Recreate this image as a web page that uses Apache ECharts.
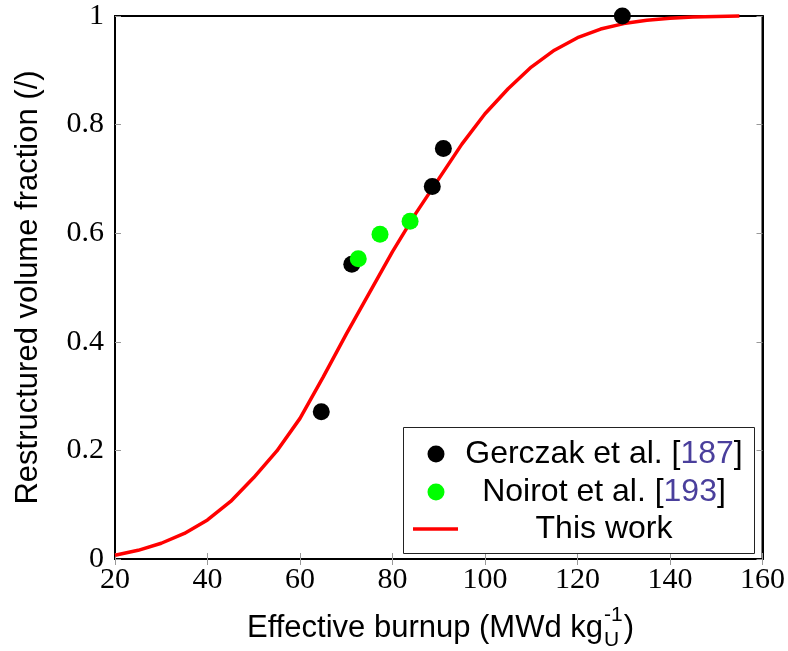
<!DOCTYPE html>
<html>
<head>
<meta charset="utf-8">
<script src="https://cdn.jsdelivr.net/npm/echarts@6/dist/echarts.min.js"></script>
<style>
html,body{margin:0;padding:0;background:#fff;}
#chart{width:788px;height:651px;}
</style>
</head>
<body>
<div id="chart"></div>
<script>
// ---- data ----
const xTicks = [20, 40, 60, 80, 100, 120, 140, 160];
const yTicks = [0, 0.2, 0.4, 0.6, 0.8, 1];

const gerczakX = [64.6, 71.2, 88.6, 91.0, 129.7];
const gerczakY = [0.271, 0.543, 0.686, 0.756, 1.0];

const noirotX = [72.6, 77.3, 83.8];
const noirotY = [0.553, 0.598, 0.622];

const curveX = [20, 25, 30, 35, 40, 45, 50, 55, 60, 65, 70, 75, 80, 85, 90, 95, 100, 105, 110, 115, 120, 125, 130, 135, 140, 145, 150, 155];
const curveY = [0.007, 0.016, 0.029, 0.047, 0.072, 0.106, 0.150, 0.199, 0.259, 0.335, 0.414, 0.490, 0.566, 0.636, 0.700, 0.764, 0.820, 0.866, 0.906, 0.937, 0.960, 0.976, 0.986, 0.992, 0.996, 0.998, 0.999, 1.000];

const seriesNames = ['Gerczak et al. [', 'Noirot et al. [', 'This work'];
const seriesRefs = ['187', '193', ''];

const xTitle = 'Effective burnup (MWd kg';
const xTitleSup = '-1';
const xTitleSub = 'U';
const yTitle = 'Restructured volume fraction (/)';

// ---- chart ----
const chart = echarts.init(document.getElementById('chart'), null, {renderer: 'canvas'});

const SANS = '"Liberation Sans", Arial, sans-serif';
const SERIF = '"Liberation Serif", "Times New Roman", serif';

function zip(a, b) { return a.map((v, i) => [v, b[i]]); }

const grid = {left: 115, right: 24, top: 16, bottom: 92, show: true, borderColor: '#000', borderWidth: 2, backgroundColor: 'transparent'};

const tickStyle = {show: true, inside: true, length: 6, lineStyle: {color: '#999', width: 1}};
const axisLine = {show: true, lineStyle: {color: '#000', width: 2}};

// measure text for x title layout
const cv = document.createElement('canvas').getContext('2d');
function tw(text, font) { cv.font = font; return cv.measureText(text).width; }
const mainFont = '31px ' + SANS;
const legendFont = '32px ' + SANS;
const smallFont = '21px ' + SANS;
const wMain = tw(xTitle, mainFont);
const wSup = tw(xTitleSup, smallFont);
const wSub = tw(xTitleSub, smallFont);
const wPar = tw(')', mainFont);
const plotCenter = grid.left + (788 - grid.left - grid.right) / 2;
const totalW = wMain + Math.max(wSup, wSub) + wPar;
const xStart = plotCenter - totalW / 2;
const titleY = 628;

// legend geometry
const lg = {x: 403, y: 427, w: 351, h: 126};
const rowY = [454, 492, 529];
const textCX = 604;
const markX = 436;

const option = {
  backgroundColor: '#fff',
  animation: false,
  grid: grid,
  xAxis: [
    {
      type: 'value', position: 'bottom', min: xTicks[0], max: xTicks[xTicks.length - 1], interval: 20,
      axisLine: axisLine, axisTick: tickStyle, splitLine: {show: false},
      axisLabel: {color: '#000', fontFamily: SERIF, fontSize: 30, margin: 6,
        formatter: v => String(v)}
    },
    {
      type: 'value', position: 'top', min: xTicks[0], max: xTicks[xTicks.length - 1], interval: 20,
      axisLine: axisLine, axisTick: tickStyle, splitLine: {show: false}, axisLabel: {show: false}
    }
  ],
  yAxis: [
    {
      type: 'value', position: 'left', min: yTicks[0], max: yTicks[yTicks.length - 1], interval: 0.2,
      axisLine: axisLine, axisTick: tickStyle, splitLine: {show: false},
      axisLabel: {color: '#000', fontFamily: SERIF, fontSize: 30, margin: 11,
        formatter: v => String(+v.toFixed(1))},
      name: yTitle, nameLocation: 'middle', nameGap: 71, nameRotate: 90,
      nameTextStyle: {color: '#000', fontFamily: SANS, fontSize: 31}
    },
    {
      type: 'value', position: 'right', min: yTicks[0], max: yTicks[yTicks.length - 1], interval: 0.2,
      axisLine: axisLine, axisTick: tickStyle, splitLine: {show: false}, axisLabel: {show: false}
    }
  ],
  series: [
    {
      name: 'This work', type: 'line', xAxisIndex: 0, yAxisIndex: 0,
      data: zip(curveX, curveY), showSymbol: false, symbol: 'none',
      lineStyle: {color: '#ff0000', width: 3.5}, clip: false, z: 2
    },
    {
      name: 'Gerczak', type: 'scatter', xAxisIndex: 0, yAxisIndex: 0,
      data: zip(gerczakX, gerczakY), symbol: 'circle', symbolSize: 17,
      itemStyle: {color: '#000', opacity: 1}, clip: false, z: 3
    },
    {
      name: 'Noirot', type: 'scatter', xAxisIndex: 0, yAxisIndex: 0,
      data: zip(noirotX, noirotY), symbol: 'circle', symbolSize: 17,
      itemStyle: {color: '#00ff00', opacity: 1}, clip: false, z: 4
    }
  ],
  graphic: [
    // x axis title
    {type: 'text', x: xStart, y: titleY, style: {text: xTitle, font: mainFont, fill: '#000', align: 'left', verticalAlign: 'middle'}},
    {type: 'text', x: xStart + wMain + 1, y: titleY - 13, style: {text: xTitleSup, font: smallFont, fill: '#000', align: 'left', verticalAlign: 'middle'}},
    {type: 'text', x: xStart + wMain + 1, y: titleY + 12, style: {text: xTitleSub, font: smallFont, fill: '#000', align: 'left', verticalAlign: 'middle'}},
    {type: 'text', x: xStart + wMain + Math.max(wSup, wSub) + 2, y: titleY, style: {text: ')', font: mainFont, fill: '#000', align: 'left', verticalAlign: 'middle'}},
    // legend
    {type: 'rect', shape: {x: lg.x + 0.5, y: lg.y + 0.5, width: lg.w, height: lg.h}, style: {fill: '#fff', stroke: '#222', lineWidth: 1}, z: 10},
    {type: 'circle', shape: {cx: markX, cy: rowY[0], r: 8.5}, style: {fill: '#000'}, z: 11},
    {type: 'circle', shape: {cx: markX, cy: rowY[1], r: 8.5}, style: {fill: '#00ff00'}, z: 11},
    {type: 'line', shape: {x1: 413, y1: rowY[2], x2: 458, y2: rowY[2]}, style: {stroke: '#ff0000', lineWidth: 3.5}, z: 11},
    {type: 'text', x: textCX, y: rowY[0], z: 11, style: {
      text: '{t|' + seriesNames[0] + '}{n|' + seriesRefs[0] + '}{t|]}', align: 'center', verticalAlign: 'middle',
      rich: {t: {font: legendFont, fill: '#000'}, n: {font: legendFont, fill: '#4a3f9c'}}}},
    {type: 'text', x: textCX, y: rowY[1], z: 11, style: {
      text: '{t|' + seriesNames[1] + '}{n|' + seriesRefs[1] + '}{t|]}', align: 'center', verticalAlign: 'middle',
      rich: {t: {font: legendFont, fill: '#000'}, n: {font: legendFont, fill: '#4a3f9c'}}}},
    {type: 'text', x: textCX, y: rowY[2], z: 11, style: {
      text: seriesNames[2], font: legendFont, fill: '#000', align: 'center', verticalAlign: 'middle'}}
  ]
};
chart.setOption(option);
</script>
</body>
</html>
